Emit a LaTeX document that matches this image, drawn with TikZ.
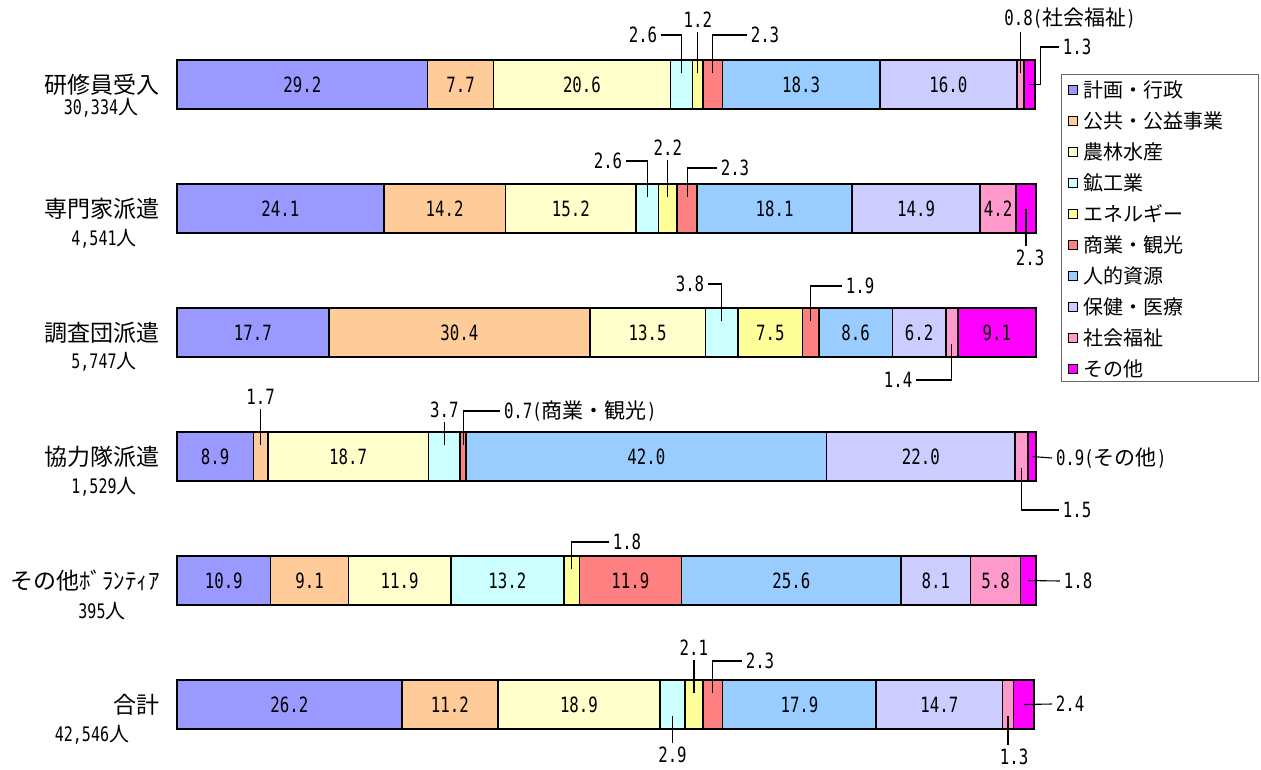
\documentclass[tikz,border=0pt]{standalone}
\usepackage{fontspec}
\setmainfont{DejaVu Sans Mono}[FakeStretch=0.75]
\newfontfamily\jp{Noto Sans CJK JP}

\definecolor{col1}{HTML}{9999FF}
\definecolor{col2}{HTML}{FFCC99}
\definecolor{col3}{HTML}{FFFFCC}
\definecolor{col4}{HTML}{CCFFFF}
\definecolor{col5}{HTML}{FFFF99}
\definecolor{col6}{HTML}{FF8080}
\definecolor{col7}{HTML}{99CCFF}
\definecolor{col8}{HTML}{CCCCFF}
\definecolor{col9}{HTML}{FF99CC}
\definecolor{col10}{HTML}{FF00FF}

\tikzset{
  seg/.style={draw=black, line width=1.6pt},
  num/.style={font=\fontsize{21}{24}\selectfont, inner sep=1pt},
  val/.style={font=\fontsize{21}{24}\selectfont, inner sep=1pt, outer sep=3pt},
  lead/.style={line width=1.1pt},
  rowname/.style={font=\jp\fontsize{23}{26}\selectfont, anchor=east, inner sep=0pt},
  rowcnt/.style={font=\fontsize{20}{23}\selectfont, inner sep=0pt},
  legbox/.style={draw=black, line width=1pt, minimum size=9pt, inner sep=0pt},
  legtxt/.style={font=\jp\fontsize{20}{23}\selectfont, anchor=west, inner sep=1pt}
}

% one bar: #1 row, #2 top, #3 value/show list
\newcommand\barrow[3]{%
  \gdef\xacc{0}
  \foreach \v/\s [count=\i] in {#3} {
    \pgfmathsetmacro\xa{177+8.58*\xacc}
    \pgfmathsetmacro\xb{177+8.58*(\xacc+\v)}
    \pgfmathsetmacro\xm{(\xa+\xb)/2}
    \coordinate (c#1-\i) at (\xm,#2+24.5);
    \coordinate (u#1-\i) at (\xm,#2+13);
    \coordinate (l#1-\i) at (\xm,#2+36);
    \ifdim\v pt>0pt \draw[seg,fill=col\i] (\xa,#2) rectangle (\xb,#2+49);\fi
    \ifnum\s=1 \node[num] (t#1-\i) at (c#1-\i) {\v};\fi
    \pgfmathsetmacro\xn{\xacc+\v}
    \xdef\xacc{\xn}
  }
}

\begin{document}
\begin{tikzpicture}[x=1pt,y=-1pt]

\fill[white] (0,0) rectangle (1261,769);
\useasboundingbox (0,0) rectangle (1261,769);

% bars
\barrow{1}{60}{29.2/1,7.7/1,20.6/1,2.6/0,1.2/0,2.3/0,18.3/1,16.0/1,0.8/0,1.3/0}
\barrow{2}{184}{24.1/1,14.2/1,15.2/1,2.6/0,2.2/0,2.3/0,18.1/1,14.9/1,4.2/1,2.3/0}
\barrow{3}{308}{17.7/1,30.4/1,13.5/1,3.8/0,7.5/1,1.9/0,8.6/1,6.2/1,1.4/0,9.1/1}
\barrow{4}{432}{8.9/1,1.7/0,18.7/1,3.7/0,0/0,0.7/0,42.0/1,22.0/1,1.5/0,0.9/0}
\barrow{5}{556}{10.9/1,9.1/1,11.9/1,13.2/1,1.8/0,11.9/1,25.6/1,8.1/1,5.8/1,1.8/0}
\barrow{6}{680}{26.2/1,11.2/1,18.9/1,2.9/0,2.1/0,2.3/0,17.9/1,14.7/1,1.3/0,2.4/0}

% row names
\node[rowname] (name1) at (160,85) {研修員受入};
\node[rowcnt] (cnt1) at (101,108) {30,334{\jp 人}};
\node[rowname] (name2) at (160,209) {専門家派遣};
\node[rowcnt] (cnt2) at (104,239) {4,541{\jp 人}};
\node[rowname] (name3) at (160,333) {調査団派遣};
\node[rowcnt] (cnt3) at (104,362) {5,747{\jp 人}};
\node[rowname] (name4) at (160,457) {協力隊派遣};
\node[rowcnt] (cnt4) at (104,487) {1,529{\jp 人}};
\node[rowname] (name5) at (160,581) {その他ﾎﾞﾗﾝﾃｨｱ};
\node[rowcnt] (cnt5) at (102,611) {395{\jp 人}};
\node[rowname] (name6) at (160,705) {合計};
\node[rowcnt] (cnt6) at (92,735) {42,546{\jp 人}};

% small values, row 1
\node[val] (n1-4) at (643,35) {2.6};
\node[val] (n1-5) at (u1-5 |- 0,20) {1.2};
\node[val] (n1-6) at (765,35) {2.3};
\node[val] (n1-9) at (1070,18) {0.8({\jp 社会福祉})};
\node[val] (n1-10) at (1077,47) {1.3};
\draw[lead] (u1-4) |- (n1-4.east);
\draw[lead] (u1-5) -- (n1-5.south);
\draw[lead] (u1-6) |- (n1-6.west);
\draw[lead] (u1-9) -- (u1-9 |- n1-9.south);
\draw[lead] (c1-10) -- ++(11,0) |- (n1-10.west);

% row 2
\node[val] (n2-4) at (608,161) {2.6};
\node[val] (n2-5) at (u2-5 |- 0,148) {2.2};
\node[val] (n2-6) at (735,168) {2.3};
\node[val] (n2-10) at (1030,258) {2.3};
\draw[lead] (u2-4) |- (n2-4.east);
\draw[lead] (u2-5) -- (n2-5.south);
\draw[lead] (u2-6) |- (n2-6.west);
\draw[lead] (c2-10) -- (c2-10 |- n2-10.north);

% row 3
\node[val] (n3-4) at (690,284) {3.8};
\node[val] (n3-6) at (860,286) {1.9};
\node[val] (n3-9) at (898,380) {1.4};
\draw[lead] (u3-4) |- (n3-4.east);
\draw[lead] (u3-6) |- (n3-6.west);
\draw[lead] (l3-9) |- (n3-9.east);

% row 4
\node[val] (n4-2) at (u4-2 |- 0,397) {1.7};
\node[val] (n4-4) at (u4-4 |- 0,410) {3.7};
\node[val, anchor=west] (n4-6) at (500,411) {0.7({\jp 商業・観光})};
\node[val, anchor=west] (n4-10) at (1052,458) {0.9({\jp その他})};
\node[val] (n4-9) at (1077,510) {1.5};
\draw[lead] (u4-2) -- (n4-2.south);
\draw[lead] (u4-4) -- (n4-4.south);
\draw[lead] (u4-6) |- (n4-6.west);
\draw[lead] (c4-10) -- (n4-10.west);
\draw[lead] (l4-9) |- (n4-9.west);

% row 5
\node[val] (n5-5) at (627,542) {1.8};
\node[val] (n5-10) at (1078,581) {1.8};
\draw[lead] (u5-5) |- (n5-5.west);
\draw[lead] (c5-10) -- (n5-10.west);

% row 6
\node[val] (n6-4) at (u6-4 |- 0,755) {2.9};
\node[val] (n6-5) at (u6-5 |- 0,648) {2.1};
\node[val] (n6-6) at (760,661) {2.3};
\node[val] (n6-9) at (1014,757) {1.3};
\node[val] (n6-10) at (1070,704) {2.4};
\draw[lead] (l6-4) -- (n6-4.north);
\draw[lead] (u6-5) -- (n6-5.south);
\draw[lead] (u6-6) |- (n6-6.west);
\draw[lead] (l6-9) -- (l6-9 |- n6-9.north);
\draw[lead] (c6-10) -- (n6-10.west);

% legend
\draw[black!60, line width=1pt] (1061,74) rectangle (1258,381);
\foreach \name [count=\k] in {計画・行政,公共・公益事業,農林水産,鉱工業,エネルギー,商業・観光,人的資源,保健・医療,社会福祉,その他} {
  \node[legbox, fill=col\k] (m\k) at (1073,59+31*\k) {};
  \node[legtxt] (g\k) at ([xshift=4pt]m\k.east) {\name};
}

\end{tikzpicture}
\end{document}
